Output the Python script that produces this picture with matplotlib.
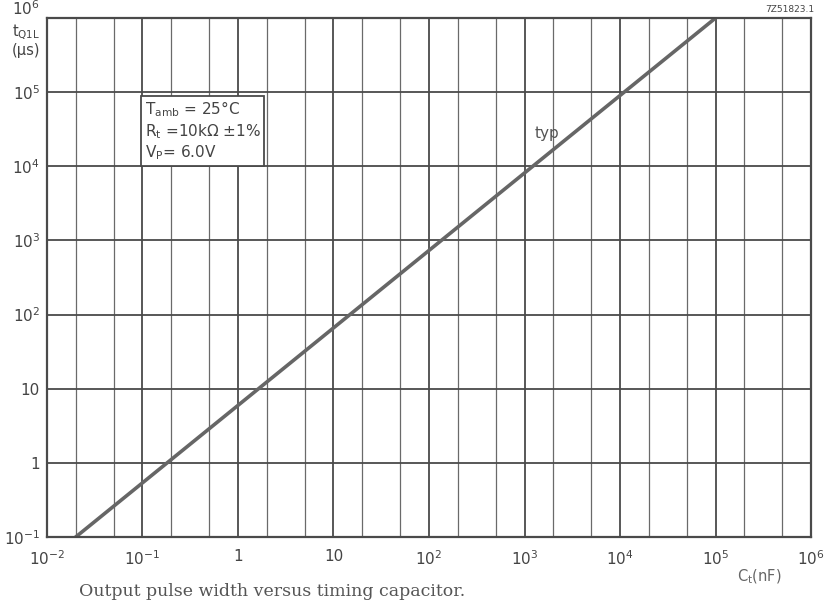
import matplotlib.pyplot as plt

# data
cap_nf = [0.02, 1e5]
t_us = [0.1, 1e6]
x_decades = [1e-2, 1e-1, 1, 10, 1e2, 1e3, 1e4, 1e5, 1e6]
x_labels = ['$10^{-2}$', '$10^{-1}$', '1', '10', '$10^{2}$', '$10^{3}$', '$10^{4}$', '$10^{5}$', '$10^{6}$']
y_decades = [1e-1, 1, 10, 1e2, 1e3, 1e4, 1e5, 1e6]
y_labels = ['$10^{-1}$', '1', '10', '$10^{2}$', '$10^{3}$', '$10^{4}$', '$10^{5}$', '$10^{6}$']

plt.rcParams['mathtext.fontset'] = 'dejavusans'
ink = '#444444'
fig = plt.figure(figsize=(8.27, 6.05), dpi=100)
ax = fig.add_axes([0.0568, 0.1124, 0.9239, 0.8578])
ax.set_xscale('log')
ax.set_yscale('log')
ax.set_xlim(1e-2, 1e6)
ax.set_ylim(1e-1, 1e6)

minor = []
for d in x_decades[:-1]:
    minor += [2 * d, 5 * d]
ax.set_xticks(x_decades)
ax.set_xticklabels(x_labels)
ax.set_xticks(minor, minor=True)
ax.set_xticklabels([], minor=True)
ax.set_yticks(y_decades)
ax.set_yticklabels(y_labels)
ax.set_yticks([], minor=True)
ax.tick_params(which='both', length=0, colors=ink, labelsize=11)
ax.tick_params(axis='x', pad=9)
ax.tick_params(axis='y', pad=5)
# nudge the top y label up a little, as in the original
ax.get_yticklabels()[-1].set_va('bottom')
ax.grid(which='major', color='#4a4a4a', lw=1.3)
ax.grid(which='minor', axis='x', color='#6a6a6a', lw=0.9)
for s in ax.spines.values():
    s.set_color('#4a4a4a')
    s.set_linewidth(1.6)

ax.plot(cap_nf, t_us, color='#666666', lw=2.6)

ax.text(0.105, 3e4, 'T$_{\\rm amb}$ = 25°C\nR$_{\\rm t}$ =10k$\\Omega$ ±1%\nV$_{\\rm P}$= 6.0V',
        fontsize=11, color=ink, va='center', ha='left', linespacing=1.2,
        bbox=dict(boxstyle='square,pad=0.25', fc='white', ec='#4a4a4a', lw=1.3))
ax.text(1700, 2.8e4, 'typ', fontsize=11, color='#555555', ha='center', va='center')

fig.text(0.955, 0.985, '7Z51823.1', fontsize=6.5, color=ink, ha='center', va='center')
fig.text(0.032, 0.962, 't$_{\\rm Q1L}$\n(μs)', fontsize=10.5, color=ink, ha='center',
         va='top', linespacing=1.1)
fig.text(0.918, 0.047, 'C$_{\\rm t}$(nF)', fontsize=10.5, color='#666666', ha='center', va='center')
fig.text(0.095, 0.022, 'Output pulse width versus timing capacitor.', fontsize=12.5,
         family='DejaVu Serif', color='#555555', ha='left', va='center')

fig.savefig('out.png', dpi=100)
